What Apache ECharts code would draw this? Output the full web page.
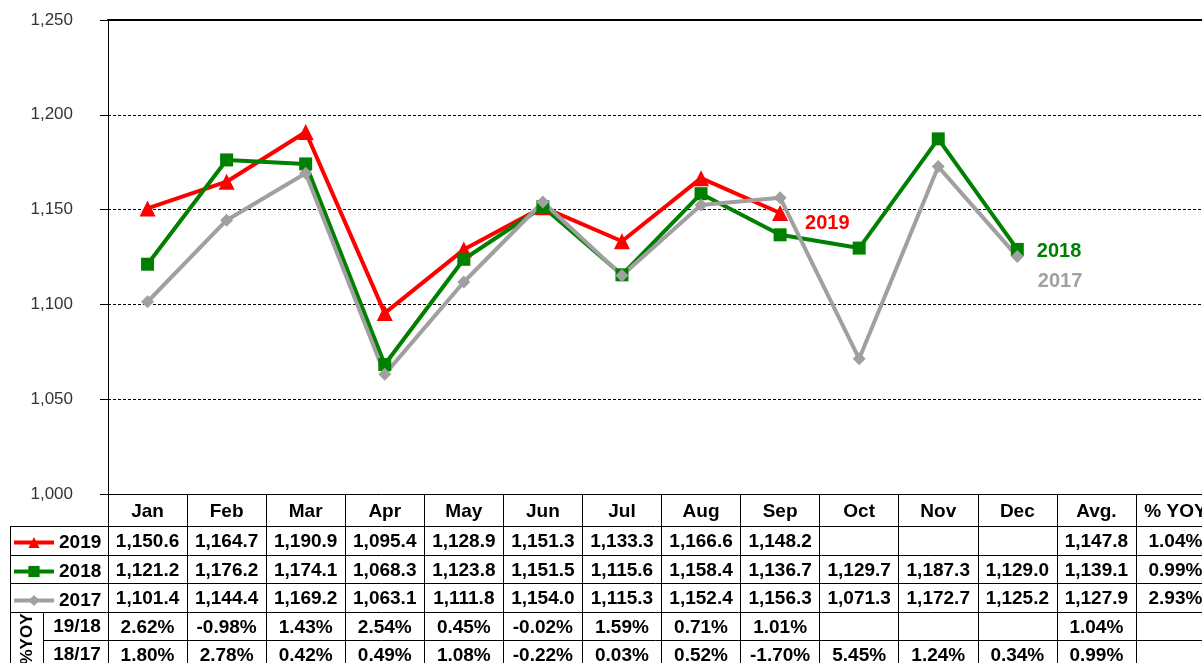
<!DOCTYPE html>
<html>
<head>
<meta charset="utf-8">
<script src="https://cdn.jsdelivr.net/npm/echarts@6/dist/echarts.min.js"></script>
<style>
  html, body { margin: 0; padding: 0; background: #fff; }
  #main { width: 1202px; height: 663px; }
</style>
</head>
<body>
<div id="main"></div>
<script>
// months plus the two summary columns of the data table
var months = ['Jan', 'Feb', 'Mar', 'Apr', 'May', 'Jun', 'Jul', 'Aug', 'Sep', 'Oct', 'Nov', 'Dec'];
var columns = months.concat(['Avg.', '% YOY']);
var seriesNames = ['2019', '2018', '2017'];

var values2019 = [1150.6, 1164.7, 1190.9, 1095.4, 1128.9, 1151.3, 1133.3, 1166.6, 1148.2, null, null, null];
var values2018 = [1121.2, 1176.2, 1174.1, 1068.3, 1123.8, 1151.5, 1115.6, 1158.4, 1136.7, 1129.7, 1187.3, 1129.0];
var values2017 = [1101.4, 1144.4, 1169.2, 1063.1, 1111.8, 1154.0, 1115.3, 1152.4, 1156.3, 1071.3, 1172.7, 1125.2];
var averages = [1147.8, 1139.1, 1127.9];
var averagesYoy = [1.04, 0.99, 2.93];

var yoy1918 = [2.62, -0.98, 1.43, 2.54, 0.45, -0.02, 1.59, 0.71, 1.01, null, null, null];
var yoy1817 = [1.80, 2.78, 0.42, 0.49, 1.08, -0.22, 0.03, 0.52, -1.70, 5.45, 1.24, 0.34];
var yoyAvg = [1.04, 0.99];

var yTicks = { min: 1000, max: 1250, interval: 50 };

var FONT = '"Liberation Sans", Arial, sans-serif';
var colors = ['#FF0000', '#008000', '#A0A0A0'];

function fmtNum(v) {
  if (v == null) return '';
  return v.toLocaleString('en-US', { minimumFractionDigits: 1, maximumFractionDigits: 1 });
}
function fmtPct(v) {
  if (v == null) return '';
  return v.toFixed(2) + '%';
}

// table rows (text shown under each column)
var tableRows = [
  values2019.map(fmtNum).concat([fmtNum(averages[0]), fmtPct(averagesYoy[0])]),
  values2018.map(fmtNum).concat([fmtNum(averages[1]), fmtPct(averagesYoy[1])]),
  values2017.map(fmtNum).concat([fmtNum(averages[2]), fmtPct(averagesYoy[2])]),
  yoy1918.map(fmtPct).concat([fmtPct(yoyAvg[0]), '']),
  yoy1817.map(fmtPct).concat([fmtPct(yoyAvg[1]), ''])
];
var rowOffsets = [32.5, 61.5, 89.5, 118, 146.5];

var chartDom = document.getElementById('main');
var myChart = echarts.init(chartDom);

var xAxes = [
  {
    type: 'category',
    data: columns,
    position: 'bottom',
    boundaryGap: true,
    axisLine: { show: true, lineStyle: { color: '#000', width: 1 } },
    axisTick: { show: true, interval: 0, alignWithLabel: false, length: 170, lineStyle: { color: '#000', width: 1 } },
    axisLabel: { interval: 0, margin: 8, fontSize: 19, fontWeight: 'bold', color: '#000', fontFamily: FONT },
    splitLine: { show: false }
  },
  {
    type: 'category',
    data: columns,
    position: 'top',
    axisLine: { show: true, lineStyle: { color: '#000', width: 2 } },
    axisTick: { show: false },
    axisLabel: { show: false },
    splitLine: { show: false }
  }
];
tableRows.forEach(function (row, r) {
  xAxes.push({
    type: 'category',
    data: columns,
    position: 'bottom',
    offset: rowOffsets[r],
    axisLine: { show: true, lineStyle: { color: '#000', width: 1 } },
    axisTick: { show: false },
    axisLabel: {
      interval: 0, margin: 6, fontSize: 19, fontWeight: 'bold', color: '#000', fontFamily: FONT,
      formatter: function (v, i) { return row[i]; }
    },
    splitLine: { show: false }
  });
});

var lineData = [values2019, values2018, values2017];
var symbols = ['triangle', 'rect', 'diamond'];
var symbolSizes = [16, 13, 13];
var endLabels = [
  { distance: 17, offset: [0, 10] },
  { distance: 13, offset: [0, 2] },
  { distance: 14, offset: [0, 25] }
];

var series = lineData.map(function (vals, s) {
  var last = -1;
  vals.forEach(function (v, i) { if (v != null) last = i; });
  var data = vals.concat([null, null]).map(function (v, i) {
    if (i !== last) return v;
    return {
      value: v,
      label: {
        show: true, position: 'right', formatter: seriesNames[s],
        distance: endLabels[s].distance, offset: endLabels[s].offset,
        color: colors[s], fontSize: 20, fontWeight: 'bold', fontFamily: FONT
      }
    };
  });
  return {
    name: seriesNames[s],
    type: 'line',
    data: data,
    symbol: symbols[s],
    symbolSize: symbolSizes[s],
    showAllSymbol: true,
    color: colors[s],
    lineStyle: { color: colors[s], width: 4 },
    itemStyle: { color: colors[s] },
    label: { show: false },
    emphasis: { disabled: true }
  };
});

var option = {
  animation: false,
  backgroundColor: '#fff',
  grid: { left: 108, top: 20, width: 1107, height: 474, containLabel: false, outerBoundsMode: 'none' },
  legend: {
    data: seriesNames,
    orient: 'vertical',
    left: 12,
    top: 533,
    padding: 0,
    itemWidth: 40,
    itemHeight: 14,
    itemGap: 10,
    selectedMode: false,
    lineStyle: { width: 4 },
    textStyle: { fontSize: 19, fontWeight: 'bold', color: '#000', fontFamily: FONT, lineHeight: 14 }
  },
  xAxis: xAxes,
  yAxis: {
    type: 'value',
    min: yTicks.min,
    max: yTicks.max,
    interval: yTicks.interval,
    axisLine: { show: true, lineStyle: { color: '#000', width: 1 } },
    axisTick: { show: true, length: 8, lineStyle: { color: '#000' } },
    axisLabel: {
      margin: 35, fontSize: 17, color: '#333', fontFamily: FONT,
      formatter: function (v) { return v.toLocaleString('en-US'); }
    },
    splitLine: { show: true, lineStyle: { color: '#000', width: 1, type: [3, 2] } }
  },
  graphic: [
    // left part of the data table (legend and %YOY label cells)
    { type: 'line', shape: { x1: 10.5, y1: 526.5, x2: 10.5, y2: 663 }, style: { stroke: '#000', lineWidth: 1 } },
    { type: 'line', shape: { x1: 10, y1: 526.5, x2: 108, y2: 526.5 }, style: { stroke: '#000', lineWidth: 1 } },
    { type: 'line', shape: { x1: 10, y1: 555.5, x2: 108, y2: 555.5 }, style: { stroke: '#000', lineWidth: 1 } },
    { type: 'line', shape: { x1: 10, y1: 583.5, x2: 108, y2: 583.5 }, style: { stroke: '#000', lineWidth: 1 } },
    { type: 'line', shape: { x1: 10, y1: 612.5, x2: 108, y2: 612.5 }, style: { stroke: '#000', lineWidth: 1 } },
    { type: 'line', shape: { x1: 43.5, y1: 640.5, x2: 108, y2: 640.5 }, style: { stroke: '#000', lineWidth: 1 } },
    { type: 'line', shape: { x1: 43.5, y1: 612, x2: 43.5, y2: 663 }, style: { stroke: '#000', lineWidth: 1 } },
    { type: 'text', x: 77, y: 627, style: { text: '19/18', font: 'bold 19px ' + FONT, fill: '#000', align: 'center', verticalAlign: 'middle' } },
    { type: 'text', x: 77, y: 655, style: { text: '18/17', font: 'bold 19px ' + FONT, fill: '#000', align: 'center', verticalAlign: 'middle' } },
    { type: 'text', x: 27, y: 639, rotation: Math.PI / 2, style: { text: '%YOY', font: 'bold 17px ' + FONT, fill: '#000', align: 'center', verticalAlign: 'middle' } }
  ],
  series: series
};

option && myChart.setOption(option);
</script>
</body>
</html>
